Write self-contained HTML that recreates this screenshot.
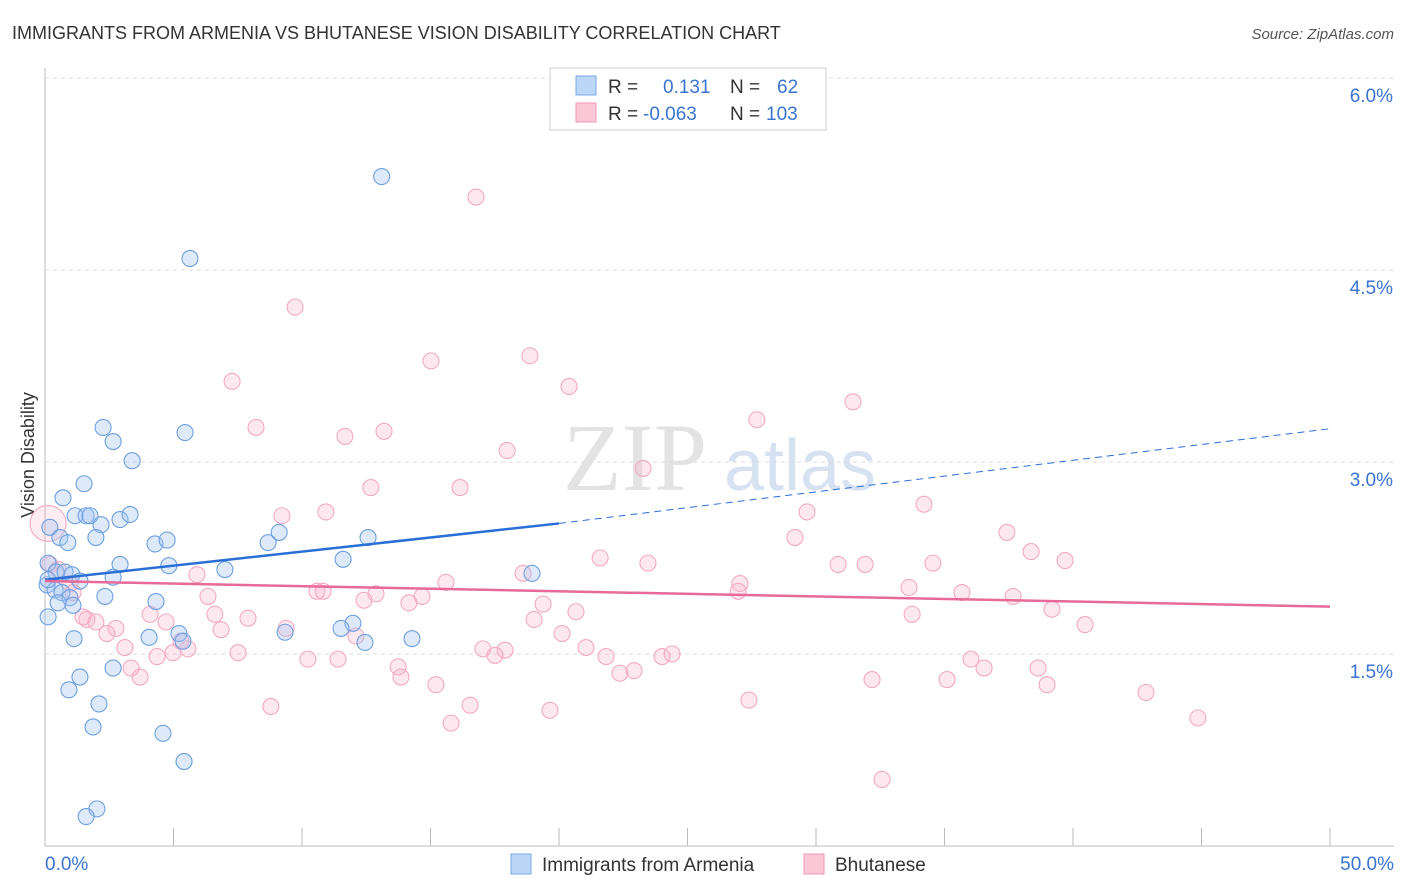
<!DOCTYPE html>
<html><head><meta charset="utf-8">
<style>
body{margin:0;background:#fff;font-family:"Liberation Sans",sans-serif;}
#wrap{position:relative;width:1406px;height:892px;overflow:hidden;}
</style></head>
<body>
<div id="wrap">
<svg id="svg" width="1406" height="892" xmlns="http://www.w3.org/2000/svg">
<text x="12" y="39" font-size="18" fill="#333">IMMIGRANTS FROM ARMENIA VS BHUTANESE VISION DISABILITY CORRELATION CHART</text>
<text x="1394" y="39" font-size="15" fill="#555" font-style="italic" text-anchor="end">Source: ZipAtlas.com</text>
<text x="635" y="490" font-size="96" fill="#e3e3e3" font-family="Liberation Serif" text-anchor="middle">ZIP</text>
<text x="800" y="490" font-size="72" fill="#d6e2f2" text-anchor="middle">atlas</text>
<text x="34" y="455" font-size="18" fill="#333" text-anchor="middle" transform="rotate(-90 34 455)">Vision Disability</text>
<g id="grid"></g><g id="pts"></g><g id="trend"></g>
<g>
<rect x="550" y="68" width="276" height="62" fill="#fff" stroke="#ccc"/>
<rect x="576" y="76" width="20" height="19" fill="#bcd6f7" stroke="#7aa9e6"/>
<rect x="576" y="103" width="20" height="19" fill="#fbc6d6" stroke="#ee9ab5"/>
<text x="608" y="93" font-size="19" fill="#333">R = <tspan x="663" fill="#3a74d0">0.131</tspan><tspan x="730" fill="#333">N = </tspan><tspan x="777" fill="#3a74d0">62</tspan></text>
<text x="608" y="120" font-size="19" fill="#333">R = <tspan x="643" fill="#3a74d0">-0.063</tspan><tspan x="730" fill="#333">N = </tspan><tspan x="766" fill="#3a74d0">103</tspan></text>
</g>
<g>
<rect x="511" y="854" width="20" height="20" fill="#bcd6f7" stroke="#7aa9e6"/>
<text x="542" y="871" font-size="19" fill="#333">Immigrants from Armenia</text>
<rect x="804" y="854" width="20" height="20" fill="#fbc6d6" stroke="#ee9ab5"/>
<text x="835" y="871" font-size="19" fill="#333">Bhutanese</text>
</g>
</svg>
</div>
<script>
const blueX=[13.1,5.64,2.26,2.65,5.45,3.39,1.52,0.70,1.17,1.60,1.75,2.18,2.92,3.31,0.19,0.58,0.89,1.98,4.28,4.75,9.11,8.68,12.57,11.60,2.92,4.82,7.00,18.95,0.12,0.43,0.78,1.05,1.36,2.65,0.08,0.39,0.66,0.97,0.51,2.33,4.32,1.09,0.12,11.98,11.52,9.34,4.05,5.21,1.13,5.37,12.45,14.28,2.65,1.36,0.93,2.10,1.87,4.59,5.41,2.02,1.60,0.12];
const blueY=[5.23,4.59,3.27,3.16,3.23,3.01,2.83,2.72,2.58,2.58,2.58,2.51,2.55,2.59,2.49,2.41,2.37,2.41,2.36,2.39,2.45,2.37,2.41,2.24,2.20,2.19,2.16,2.13,2.21,2.14,2.14,2.12,2.07,2.10,2.04,2.00,1.98,1.94,1.90,1.95,1.91,1.88,1.79,1.74,1.70,1.67,1.63,1.66,1.62,1.60,1.59,1.62,1.39,1.32,1.22,1.11,0.93,0.88,0.66,0.29,0.23,2.08];
const pinkX=[16.77,9.73,15.02,18.87,7.28,20.39,31.44,27.70,8.21,11.67,13.19,17.98,23.27,12.68,16.15,34.20,9.22,10.93,29.65,37.43,29.18,38.37,21.60,23.46,30.86,31.91,34.55,39.69,5.91,15.60,18.60,27.04,26.97,33.62,35.68,37.67,10.58,10.82,12.88,12.41,14.67,14.16,6.34,19.38,20.66,39.18,33.74,40.47,4.09,4.71,7.90,6.61,1.63,1.98,2.76,6.85,9.38,12.10,19.03,2.41,20.12,0.12,0.19,0.51,0.97,1.09,1.48,3.11,5.29,5.56,4.36,4.98,7.51,17.04,17.90,17.51,21.05,21.83,24.01,24.40,10.23,11.40,13.74,13.85,15.21,22.37,22.92,36.03,36.54,38.64,3.35,3.70,8.79,16.54,15.80,19.65,27.39,32.18,35.10,38.99,42.84,44.86,32.57];
const pinkY=[5.07,4.21,3.79,3.83,3.63,3.59,3.47,3.33,3.27,3.20,3.24,3.09,2.95,2.80,2.80,2.67,2.58,2.61,2.61,2.45,2.41,2.30,2.25,2.21,2.20,2.20,2.21,2.23,2.12,2.06,2.13,2.05,1.99,2.02,1.98,1.95,1.99,1.99,1.97,1.92,1.95,1.90,1.95,1.89,1.83,1.85,1.81,1.73,1.81,1.75,1.78,1.81,1.77,1.75,1.70,1.69,1.70,1.64,1.77,1.66,1.66,2.52,2.20,2.16,2.05,1.98,1.79,1.55,1.60,1.54,1.48,1.51,1.51,1.54,1.53,1.49,1.55,1.48,1.48,1.50,1.46,1.46,1.40,1.32,1.26,1.35,1.37,1.46,1.39,1.39,1.39,1.32,1.09,1.10,0.96,1.06,1.14,1.30,1.30,1.26,1.20,1.00,0.52];
const yTicks=[1.5,3.0,4.5,6.0];
const yTickLabels=["1.5%","3.0%","4.5%","6.0%"];
const xTicks=[0,5,10,15,20,25,30,35,40,45,50];
const blueTrend=[2.08,2.52,3.26];
const pinkTrend=[2.07,1.87];
const X=v=>45+v/50*1285, Y=v=>846-v*128;
const NS="http://www.w3.org/2000/svg";
function mk(t,a,p){const e=document.createElementNS(NS,t);for(const k in a)e.setAttribute(k,a[k]);p.appendChild(e);return e;}
const grid=document.getElementById('grid');
let ax=mk('line',{x1:45,y1:68,x2:45,y2:846,stroke:'#bbb'},grid);


let bx=mk('line',{x1:45,y1:846,x2:1394,y2:846,stroke:'#bbb'},grid);


yTicks.forEach((t,i)=>{
 const g=mk('line',{x1:45,y1:Y(t),x2:1394,y2:Y(t),stroke:'#ddd','stroke-dasharray':'4,4'},grid);
 
 
 const tx=mk('text',{x:1393,y:Y(t)+24,'font-size':19,fill:'#3a74d0','text-anchor':'end'},grid);
 tx.textContent=yTickLabels[i];
 
 
});
xTicks.forEach(t=>{
 const l=mk('line',{x1:X(t),y1:828,x2:X(t),y2:846,stroke:'#bbb'},grid);
 
 
});
const t0=mk('text',{x:45,y:870,'font-size':19,fill:'#3a74d0'},grid);t0.textContent='0.0%';


const t1=mk('text',{x:1394,y:870,'font-size':19,fill:'#3a74d0','text-anchor':'end'},grid);t1.textContent='50.0%';


const pts=document.getElementById('pts');
pinkX.forEach((x,i)=>{
 const c=mk('circle',{cx:X(x),cy:Y(pinkY[i]),r:(i==61?18:8),fill:(i==61?'rgba(248,180,202,0.25)':'rgba(248,180,202,0.3)'),stroke:'#f2aac2','stroke-width':1.1},pts);
 
 
});
blueX.forEach((x,i)=>{
 const c=mk('circle',{cx:X(x),cy:Y(blueY[i]),r:8,fill:'rgba(160,196,242,0.35)',stroke:'#6d9fe0','stroke-width':1.1},pts);
 
 
});
const tr=document.getElementById('trend');
let l1=mk('line',{x1:X(0),y1:Y(blueTrend[0]),x2:X(20),y2:Y(blueTrend[1]),stroke:'#2a6fd6','stroke-width':2.5},tr);


let l2=mk('line',{x1:X(20),y1:Y(blueTrend[1]),x2:X(50),y2:Y(blueTrend[2]),stroke:'#2a6fd6','stroke-width':1,'stroke-dasharray':'7,5'},tr);


let l3=mk('line',{x1:X(0),y1:Y(pinkTrend[0]),x2:X(50),y2:Y(pinkTrend[1]),stroke:'#e76a98','stroke-width':2.5},tr);


</script>
</body></html>
